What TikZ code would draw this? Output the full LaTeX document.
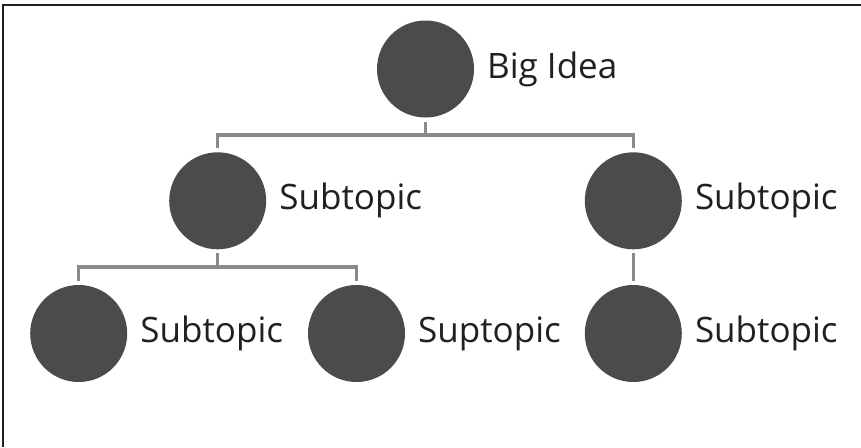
\documentclass[tikz,border=0pt]{standalone}
\usepackage{fontspec}
\setmainfont{Open Sans}
\usetikzlibrary{positioning}
\definecolor{bubblegray}{HTML}{4B4B4D}
\definecolor{branchgray}{HTML}{8A8A8C}
\definecolor{ink}{HTML}{231F20}
\tikzset{
  bubble/.style={circle,fill=bubblegray,minimum size=97pt,inner sep=0pt,outer sep=4pt},
  branch/.style={draw=branchgray,line width=3.5pt},
  caption/.style={text=ink,inner sep=0pt,font=\fontsize{35}{40}\selectfont},
}
\begin{document}
\begin{tikzpicture}[x=1pt,y=-1pt]
  \useasboundingbox (0,0) rectangle (861,447);
  % frame
  \draw[ink,line width=2pt] (3,447) -- (3,5) -- (861,5);
  % circles
  \node[bubble] (big)    at (425.5,69)    {};
  \node[bubble] (subL)   at (217.7,200.8) {};
  \node[bubble] (subR)   at (633.3,200.8) {};
  \node[bubble] (leafLL) at (78.7,333.5)  {};
  \node[bubble] (leafLR) at (356.5,333.5) {};
  \node[bubble] (leafR)  at (633.3,333.5) {};
  % labels
  \node[caption,right=9pt of big]    (bigtxt)    {Big Idea};
  \node[caption,right=9pt of subL]   (subLtxt)   {Subtopic};
  \node[caption,right=9pt of subR]   (subRtxt)   {Subtopic};
  \node[caption,right=9pt of leafLL] (leafLLtxt) {Subtopic};
  \node[caption,right=9pt of leafLR] (leafLRtxt) {Suptopic};
  \node[caption,right=9pt of leafR]  (leafRtxt)  {Subtopic};
  % branches
  \draw[branch] (big.south) -- ++(0,13.5) -| (subL.north);
  \draw[branch] (big.south) -- ++(0,13.5) -| (subR.north);
  \draw[branch] (subL.south) -- ++(0,13.5) -| (leafLL.north);
  \draw[branch] (subL.south) -- ++(0,13.5) -| (leafLR.north);
  \draw[branch] (subR.south) -- (leafR.north);
\end{tikzpicture}
\end{document}
